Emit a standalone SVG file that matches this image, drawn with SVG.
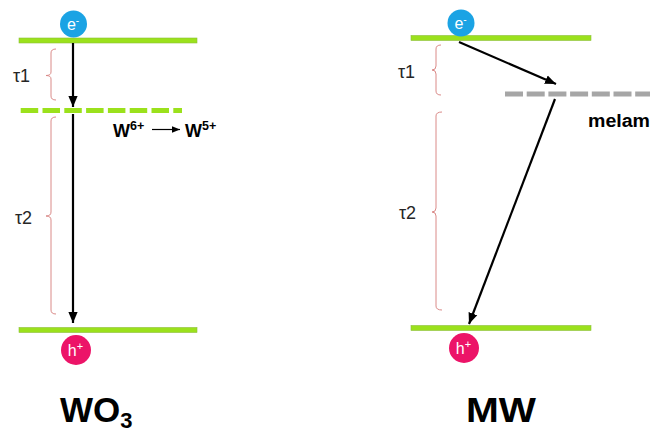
<svg xmlns="http://www.w3.org/2000/svg" width="654" height="436" viewBox="0 0 654 436">
<style>
.band{fill:#9BE11C;stroke:#8DBF3A;stroke-width:0.6}
.dash-g{stroke:#9BE11C;stroke-width:5;stroke-dasharray:17.5 4.3;fill:none}
.dash-m{stroke:#A6A6A6;stroke-width:5;stroke-dasharray:18 3.7;fill:none}
.brace{fill:none;stroke:#DA8A88;stroke-width:1}
.tau{font-family:"Liberation Sans",Arial,sans-serif;font-size:18px;fill:#262626}
.conn{stroke:#000;stroke-width:2.2;fill:none}
.pe{fill:#1BA3E4}
.ph{fill:#EC1468}
.ptxt{font-family:"Liberation Sans",Arial,sans-serif;font-size:16px;fill:#fff}
.bold{font-family:"Liberation Sans",Arial,sans-serif;font-weight:bold;fill:#000}
</style>
<defs>
<marker id="ah" markerUnits="userSpaceOnUse" markerWidth="11" markerHeight="11" viewBox="0 0 10 10" refX="10" refY="5" orient="auto">
<path d="M0,0.8 L10,5 L0,9.2 Z" fill="#000"/>
</marker>
<marker id="ahs" markerUnits="userSpaceOnUse" markerWidth="8" markerHeight="8" viewBox="0 0 10 10" refX="10" refY="5" orient="auto">
<path d="M0,1 L10,5 L0,9 Z" fill="#000"/>
</marker>
</defs>

<!-- WO3 panel -->
<g id="wo3-cb"><rect class="band" x="19" y="38" width="178" height="5"/></g>
<g id="wo3-trap"><line class="dash-g" x1="20.7" y1="110.5" x2="182" y2="110.5"/></g>
<g id="wo3-vb"><rect class="band" x="19" y="327.5" width="178" height="5"/></g>
<g id="wo3-e"><circle class="pe" cx="73.5" cy="24" r="13.5"/><text class="ptxt" x="73" y="29.5" text-anchor="middle">e<tspan font-size="10" dy="-6">-</tspan></text></g>
<g id="wo3-h"><circle class="ph" cx="76" cy="350" r="15"/><text class="ptxt" x="75.5" y="356" text-anchor="middle">h<tspan font-size="11" dy="-6">+</tspan></text></g>
<g id="wo3-tau1"><path class="brace" d="M56,49 Q51,49 51,53 L51,72 Q51,75.5 46,75.5 Q51,75.5 51,79 L51,96 Q51,100 56,100"/><text class="tau" x="13" y="82">τ1</text></g>
<g id="wo3-tau2"><path class="brace" d="M56,117 Q51,117 51,121 L51,212 Q51,216 46,216 Q51,216 51,220 L51,310 Q51,314 56,314"/><text class="tau" x="15" y="224">τ2</text></g>
<g id="wo3-w"><text class="bold" x="113" y="137" font-size="18">W<tspan font-size="12.5" dy="-7">6+</tspan></text><text class="bold" x="185" y="137" font-size="18">W<tspan font-size="12.5" dy="-7">5+</tspan></text></g>
<g id="wo3-label"><text class="bold" x="60" y="422" font-size="35">WO<tspan font-size="22" dy="6">3</tspan></text></g>

<!-- MW panel -->
<g id="mw-cb"><rect class="band" x="411" y="35.5" width="180" height="5"/></g>
<g id="mw-trap"><line class="dash-m" x1="505" y1="94" x2="650" y2="94"/><text class="bold" x="588" y="127" font-size="18" textLength="62" lengthAdjust="spacingAndGlyphs">melam</text></g>
<g id="mw-vb"><rect class="band" x="411" y="325.5" width="180" height="5"/></g>
<g id="mw-e"><circle class="pe" cx="461" cy="23" r="13.5"/><text class="ptxt" x="460.5" y="28.5" text-anchor="middle">e<tspan font-size="10" dy="-6">-</tspan></text></g>
<g id="mw-h"><circle class="ph" cx="464" cy="348" r="15"/><text class="ptxt" x="463.5" y="354" text-anchor="middle">h<tspan font-size="11" dy="-6">+</tspan></text></g>
<g id="mw-tau1"><path class="brace" d="M441,45 Q436,45 436,49 L436,66 Q436,70 432,70 Q436,70 436,74 L436,91 Q436,95 441,95"/><text class="tau" x="398" y="78">τ1</text></g>
<g id="mw-tau2"><path class="brace" d="M442,112 Q436,112 436,116 L436,208 Q436,212 432,212 Q436,212 436,216 L436,306 Q436,310 442,310"/><text class="tau" x="399" y="219">τ2</text></g>
<g id="mw-label"><text class="bold" x="501" y="422" font-size="35" text-anchor="middle" textLength="70" lengthAdjust="spacingAndGlyphs">MW</text></g>

<g id="connectors">
<line class="conn" x1="73" y1="43" x2="73" y2="107" marker-end="url(#ah)"/>
<line class="conn" x1="73" y1="114" x2="73" y2="323" marker-end="url(#ah)"/>
<line x1="152" y1="129.5" x2="180" y2="129.5" stroke="#000" stroke-width="1.2" marker-end="url(#ahs)"/>
<line class="conn" x1="459" y1="42" x2="556" y2="84" marker-end="url(#ah)"/>
<line class="conn" x1="555" y1="99" x2="469" y2="324" marker-end="url(#ah)"/>
</g>
</svg>
